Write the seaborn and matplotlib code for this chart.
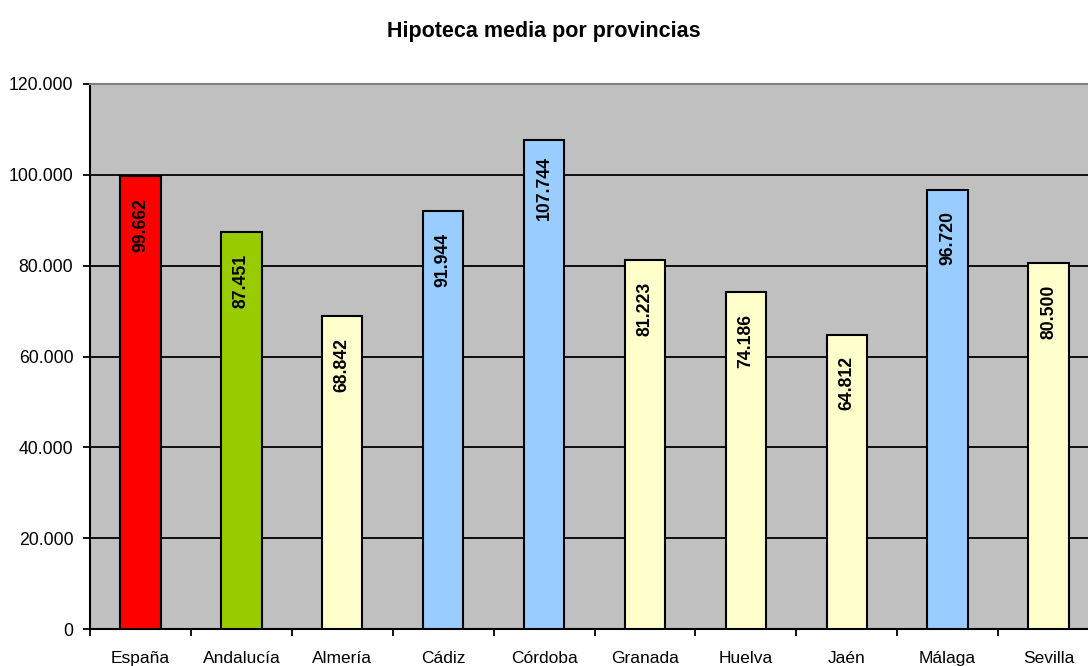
import matplotlib
matplotlib.use("Agg")
import matplotlib.pyplot as plt
import seaborn as sns
import pandas as pd
from matplotlib.ticker import FuncFormatter, FixedLocator

categories = ["España", "Andalucía", "Almería", "Cádiz", "Córdoba",
              "Granada", "Huelva", "Jaén", "Málaga", "Sevilla"]
values = [99662, 87451, 68842, 91944, 107744, 81223, 74186, 64812, 96720, 80500]
bar_colors = ["#FF0000", "#99CC00", "#FFFFCC", "#99CCFF", "#99CCFF",
              "#FFFFCC", "#FFFFCC", "#FFFFCC", "#99CCFF", "#FFFFCC"]
y_ticks = [0, 20000, 40000, 60000, 80000, 100000, 120000]
title = "Hipoteca media por provincias"

sns.set_style("white")
plt.rcParams["font.family"] = ["Liberation Sans", "DejaVu Sans"]
plt.rcParams["text.color"] = "black"
plt.rcParams["xtick.color"] = "black"
plt.rcParams["ytick.color"] = "black"
plt.rcParams["axes.labelcolor"] = "black"

df = pd.DataFrame({"cat": categories, "val": values})

fig = plt.figure(figsize=(10.88, 6.66), dpi=100)
ax = fig.add_axes([90 / 1088, 37 / 666, 1009 / 1088, 545 / 666])
ax.set_facecolor("#C0C0C0")

sns.barplot(data=df, x="cat", y="val", hue="cat", palette=bar_colors,
            order=categories, hue_order=categories, legend=False,
            width=0.4, edgecolor="black", linewidth=1.5, saturation=1, ax=ax, zorder=3)

ax.set_xlim(-0.5, len(categories) - 0.5)
ax.set_ylim(0, 120000)
ax.yaxis.set_major_locator(FixedLocator(y_ticks))
ax.yaxis.set_major_formatter(FuncFormatter(lambda v, p: f"{int(v):,}".replace(",", ".")))
ax.grid(axis="y", color="black", linewidth=1.3, zorder=1)
ax.set_axisbelow(True)

# category boundary ticks
ax.set_xticks([i - 0.5 for i in range(len(categories) + 1)], minor=True)
ax.tick_params(axis="x", which="minor", length=5, width=1.3, color="black", direction="out", bottom=True)
ax.tick_params(axis="x", which="major", length=0, pad=16, labelsize=12.5, colors="black")
ax.tick_params(axis="y", which="major", length=5, width=1.3, color="black", direction="out",
               left=True, labelsize=12.7, pad=7, colors="black")
ax.set_xlabel("")
ax.set_ylabel("")

for s in ["left", "bottom"]:
    ax.spines[s].set_color("black")
    ax.spines[s].set_linewidth(1.5)
ax.spines["top"].set_color("#808080")
ax.spines["top"].set_linewidth(1.5)
ax.spines["right"].set_visible(False)

for i, v in enumerate(values):
    ax.annotate(f"{v:,}".replace(",", "."), xy=(i, v), xytext=(0, -35),
                textcoords="offset points", rotation=90, ha="center", va="center",
                fontsize=12.7, fontweight="bold", color="black", zorder=5)

fig.text(0.5, 1 - 31 / 666, title, ha="center", va="center",
         fontsize=15.5, fontweight="bold", color="black")

fig.savefig("out.png", dpi=100)
